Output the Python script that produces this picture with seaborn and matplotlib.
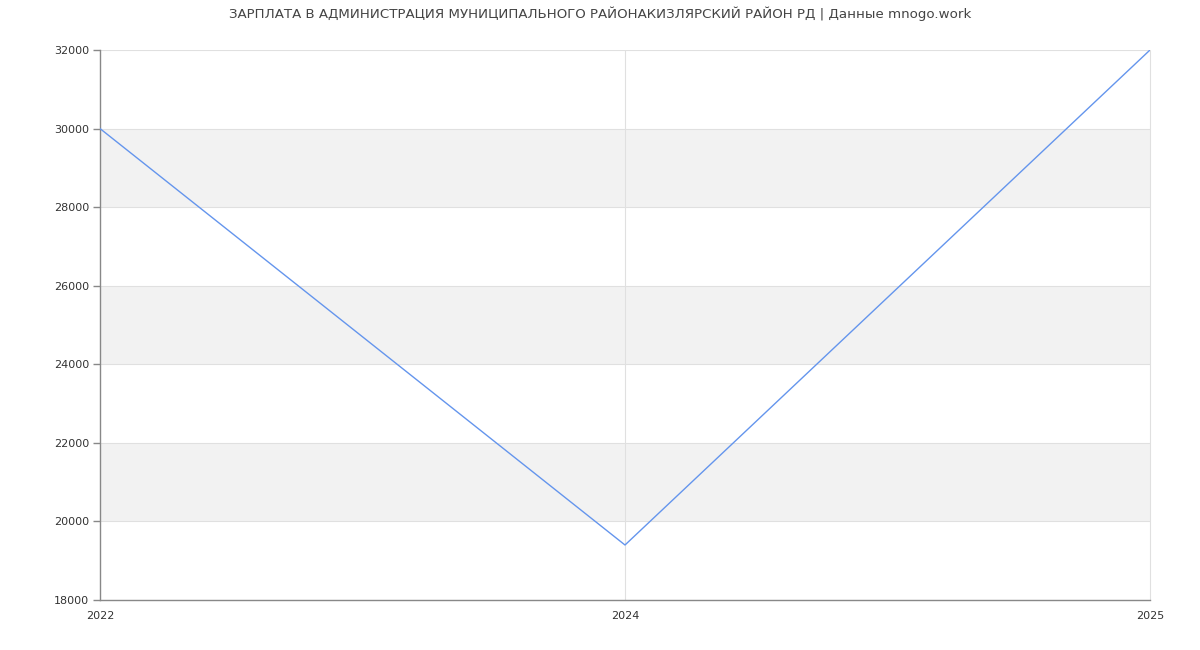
import matplotlib
matplotlib.use("Agg")
import matplotlib.pyplot as plt
import seaborn as sns
import pandas as pd

years = ["2022", "2024", "2025"]
salaries = [30000, 19400, 32000]
y_ticks = [18000, 20000, 22000, 24000, 26000, 28000, 30000, 32000]
title = "ЗАРПЛАТА В АДМИНИСТРАЦИЯ МУНИЦИПАЛЬНОГО РАЙОНАКИЗЛЯРСКИЙ РАЙОН РД | Данные mnogo.work"

sns.set_style("white")
plt.rcParams["font.family"] = ["DejaVu Sans"]

df = pd.DataFrame({"year": years, "salary": salaries})
df["pos"] = range(len(years))

fig = plt.figure(figsize=(12, 6.5), dpi=100)
ax = fig.add_axes([100 / 1200, 50 / 650, 1050 / 1200, 550 / 650])

# alternating bands
for lo, hi in zip(y_ticks[1::2], y_ticks[2::2]):
    ax.axhspan(lo, hi, color="#f2f2f2", zorder=0, lw=0)
for yv in y_ticks:
    ax.axhline(yv, color="#e0e0e0", lw=0.8, zorder=1)
for xv in df["pos"][1:]:
    ax.axvline(xv, color="#e0e0e0", lw=0.8, zorder=1, clip_on=False)

sns.lineplot(data=df, x="pos", y="salary", color="#6495ED", lw=1, ax=ax, zorder=3)

ax.set_xlim(0, len(years) - 1)
ax.set_ylim(18000, 32000)
ax.set_yticks(y_ticks)
ax.set_xticks(df["pos"])
ax.set_xticklabels(years)
ax.set_xlabel("")
ax.set_ylabel("")
ax.tick_params(axis="y", left=True, length=5, width=1, color="#888888", labelsize=8, labelcolor="#333333", pad=3)
ax.tick_params(axis="x", length=0, labelsize=8, labelcolor="#333333", pad=8)
for s in ["top", "right"]:
    ax.spines[s].set_visible(False)
for s in ["left", "bottom"]:
    ax.spines[s].set_color("#888888")
    ax.spines[s].set_linewidth(1)

fig.text(0.5, 1 - 14 / 650, title, ha="center", va="center", fontsize=9.6, color="#444444")

fig.savefig("out.png", dpi=100)
